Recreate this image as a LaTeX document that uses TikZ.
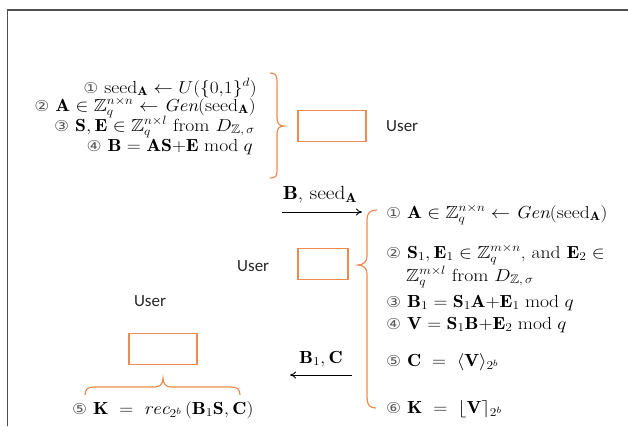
\documentclass[tikz,border=0pt]{standalone}
\usepackage{amssymb}
\usepackage{graphicx}
\usepackage{fontspec}
\usetikzlibrary{arrows.meta}
\newfontfamily\symfont{DejaVu Sans}
\newfontfamily\userfont{Carlito}
\newcommand\cnum[1]{{\symfont\fontsize{15}{17}\selectfont\color{black!65}#1}}
\newcommand\wx[1]{\scalebox{1.12}[1]{#1}}
\definecolor{braceorange}{RGB}{237,140,80}
\definecolor{framegray}{RGB}{80,80,80}
\tikzset{
  eq/.style={inner sep=0pt, font=\fontsize{17.5}{20}\selectfont},
  eqL/.style={eq, anchor=base east},
  eqR/.style={eq, anchor=base west},
  userlbl/.style={inner sep=0pt, font=\userfont\fontsize{17}{20}\selectfont, text=black!85},
  userbox/.style={draw=braceorange, line width=1.3pt, minimum width=#1, minimum height=31pt, inner sep=0pt},
  bracepath/.style={draw=braceorange, line width=1.2pt},
  msg/.style={-{To[length=6pt,width=7pt]}, line width=0.9pt}
}
\begin{document}
\begin{tikzpicture}[x=1pt,y=-1pt]
\useasboundingbox (0,0) rectangle (628,426);
% frame
\draw[framegray, line width=1.4pt] (7.5,426) -- (7.5,10) -- (628,10);

% top-left block
\node[eqL] (l1) at (257,93) {\wx{\cnum{①} $\mathrm{seed}_{\mathbf A} \leftarrow U(\{0{,}1\}^{d})$}};
\node[eqL] (l2) at (256,111) {\wx{\cnum{②} $\mathbf A \in \mathbb Z_q^{n\times n} \leftarrow \mathit{Gen}(\mathrm{seed}_{\mathbf A})$}};
\node[eqL] (l3) at (255,131) {\wx{\cnum{③} $\mathbf S, \mathbf E \in \mathbb Z_q^{n\times l}$ from $D_{\mathbb Z,\,\sigma}$}};
\node[eqL] (l4) at (253,151) {\wx{\cnum{④} $\mathbf B = \mathbf{AS}{+}\mathbf E \bmod q$}};
\draw[bracepath] (270,73) .. controls (276,73) and (277,76) .. (277,82) -- (277,118)
  .. controls (277,123) and (279,126) .. (284,126)
  .. controls (279,126) and (277,129) .. (277,134) -- (277,170)
  .. controls (277,176) and (276,178) .. (270,178);
\node[userbox=68pt] (box1) at (332,126) {};
\node[userlbl, anchor=west] (user1) at (386,126) {User};

% arrow 1
\coordinate (a1s) at (282,212);
\coordinate (a1e) at (362,212);
\draw[msg] (a1s) -- (a1e);
\node[eq, anchor=base, font=\fontsize{19}{22}\selectfont] (m1) at (320,199) {\wx{$\mathbf B$, $\mathrm{seed}_{\mathbf A}$}};

% right block
\node[userlbl, anchor=west] (user2) at (237,266) {User};
\node[userbox=50pt] (box2) at (323,264) {};
\draw[bracepath] (377,210) .. controls (370,210) and (367,213) .. (367,220) -- (367,256)
  .. controls (367,262) and (363,265) .. (358,265)
  .. controls (363,265) and (367,268) .. (367,274) -- (367,398)
  .. controls (367,405) and (370,408) .. (376,408);
\node[eqR] (r1) at (386,218) {\wx{\cnum{①} $\mathbf A\in\mathbb Z_q^{n\times n}\leftarrow \mathit{Gen}(\mathrm{seed}_{\mathbf A})$}};
\node[eqR] (r2) at (386,258) {\wx{\cnum{②} $\mathbf S_1, \mathbf E_1 \in \mathbb Z_q^{m\times n}$, and $\mathbf E_2 \in$}};
\node[eqR] (r2b) at (406,281) {\wx{$\mathbb Z_q^{m\times l}$ from $D_{\mathbb Z,\,\sigma}$}};
\node[eqR] (r3) at (386,307) {\wx{\cnum{③} $\mathbf B_1 = \mathbf S_1\mathbf A{+}\mathbf E_1 \bmod q$}};
\node[eqR] (r4) at (386,329) {\wx{\cnum{④} $\mathbf V = \mathbf S_1\mathbf B{+}\mathbf E_2 \bmod q$}};
\node[eqR] (r5) at (386,366) {\wx{\cnum{⑤} $\mathbf C \;=\; \langle \mathbf V\rangle_{2^b}$}};
\node[eqR] (r6) at (386,413) {\wx{\cnum{⑥} $\mathbf K \;=\; \lfloor \mathbf V \rceil_{2^b}$}};

% arrow 2
\coordinate (a2s) at (352,375);
\coordinate (a2e) at (290,375);
\draw[msg] (a2s) -- (a2e);
\node[eq, anchor=base] (m2) at (321,363) {\wx{$\mathbf B_1, \mathbf C$}};

% bottom-left
\node[userlbl] (user3) at (150,301) {User};
\node[userbox=68pt] (box3) at (163,349) {};
\draw[bracepath] (85,395) .. controls (85,389) and (88,387) .. (94,387) -- (155,387)
  .. controls (160,387) and (163,384) .. (163,378)
  .. controls (163,384) and (166,387) .. (171,387) -- (231,387)
  .. controls (237,387) and (240,389) .. (240,395);
\node[eq, anchor=base west] (k) at (72,414) {\wx{\cnum{⑤} $\mathbf K \;=\; \mathit{rec}_{2^b}\,(\mathbf B_1\mathbf S, \mathbf C)$}};
\end{tikzpicture}
\end{document}
